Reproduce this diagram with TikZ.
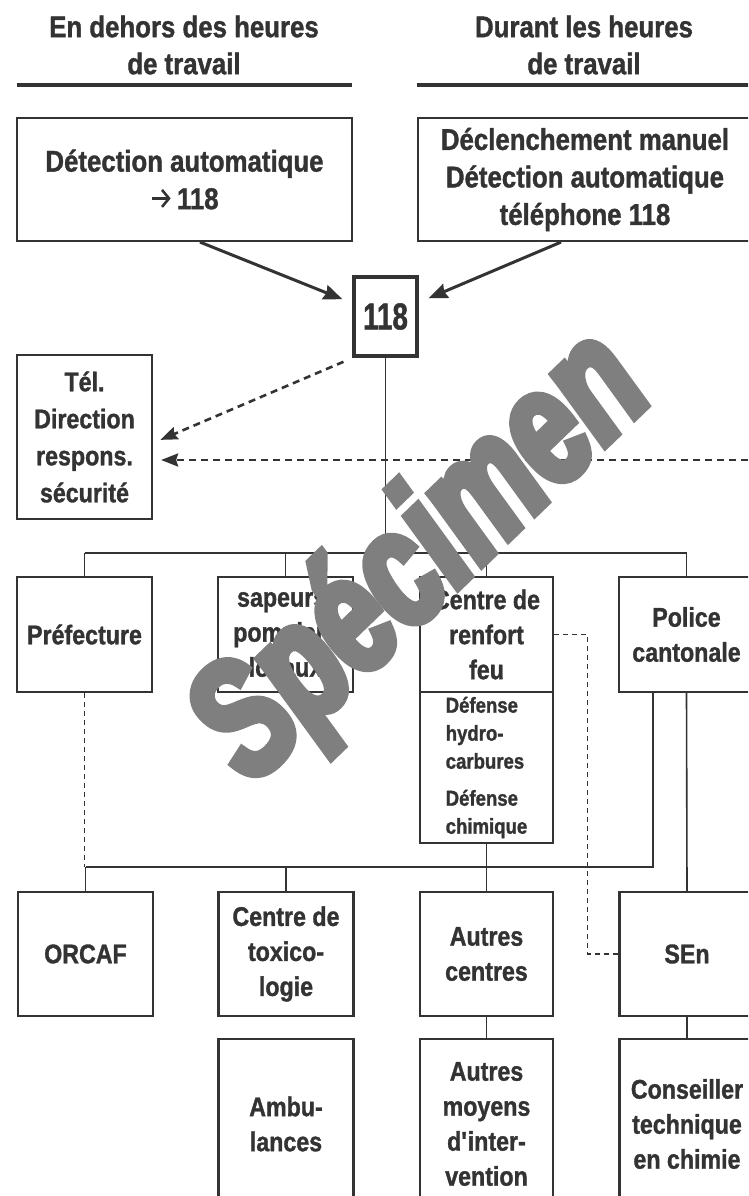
\documentclass[tikz,border=0pt]{standalone}
\usepackage{fontspec}
\setmainfont{Liberation Sans}[FakeStretch=0.86, BoldFeatures={FakeBold=1.2}]
\newfontfamily\narrowsans{Liberation Sans}[FakeStretch=0.74, BoldFeatures={FakeBold=1.2}]
\newfontfamily\stampfont{Liberation Sans}[FakeStretch=0.72, BoldItalicFeatures={FakeBold=5}]
\usetikzlibrary{arrows.meta,calc}
\definecolor{ink}{HTML}{333333}
\definecolor{stamp}{HTML}{7F7F7F}
\newcommand{\callto}{\tikz[baseline=-10.7pt]\draw[line width=2.6pt, -{Straight Barb[length=7pt,width=17pt]}] (0pt,0pt) -- (19pt,0pt);}
\begin{document}
\begin{tikzpicture}[x=1pt, y=-1pt, color=ink,
  box/.style={draw, line width=2.2pt, align=center, inner sep=0pt, font=\bfseries\fontsize{27}{35}\selectfont},
  topbox/.style={box, minimum width=335pt, minimum height=123pt, font=\bfseries\fontsize{30}{37.5}\selectfont},
  head/.style={align=center, font=\bfseries\fontsize{30}{37}\selectfont},
  unit/.style={box, minimum width=135pt, minimum height=115pt},
  link/.style={line width=1.6pt},
  bigarrow/.style={line width=3pt, -{Stealth[length=19pt,width=15pt,inset=2pt]}},
  callarrow/.style={line width=2.6pt, dash pattern=on 7pt off 5pt, -{Stealth[length=17pt,width=13pt,inset=2pt]}},
  thindash/.style={line width=1.5pt, dash pattern=on 5pt off 4pt}]
\useasboundingbox (0,0) rectangle (748,1196);
\clip (0,0) rectangle (748,1196);

\node (hleft) at (184,45) [head] {En dehors des heures\\de travail};
\node (hright) at (584,45) [head] {Durant les heures\\de travail};
\draw[line width=3.5pt] (17,85) -- (352,85);
\draw[line width=3.5pt] (417,85) -- (760,85);

\node (detA) at (184.5,179.5) [topbox] {Détection automatique\\\callto\,118};
\node (detB) at (585,179.5) [topbox, minimum width=334pt] {Déclenchement manuel\\Détection automatique\\téléphone 118};
\node (n118) at (385.5,316.5) [draw, line width=4.5pt, minimum width=63pt, minimum height=79pt, inner sep=0pt, font=\narrowsans\bfseries\fontsize{37.5}{37.5}\selectfont] {118};
\node (tel) at (84.5,437) [box, minimum width=135pt, minimum height=164pt, font=\bfseries\fontsize{27}{37}\selectfont] {Tél.\\Direction\\respons.\\sécurité};

\node (pref) at (84.5,634.5) [unit] {Préfecture};
\node (sap) at (285.5,634.5) [unit] {sapeurs-\\pompiers\\locaux};
\node (cen) at (486.5,634.5) [unit, minimum width=133pt] {Centre de\\renfort\\feu};
\node (sub) at (486.5,767.5) [box, minimum width=133pt, minimum height=151pt, align=left, font=\bfseries\fontsize{21.6}{28}\selectfont] {Défense\\hydro-\\carbures\\[9pt]Défense\\chimique};
\node (pol) at (686.5,634.5) [unit] {Police\\cantonale};

\node (orcaf) at (85.5,954) [unit, minimum height=124pt] {ORCAF};
\node (tox) at (286,954) [unit, minimum height=124pt] {Centre de\\toxico-\\logie};
\node (aut) at (486.5,954) [unit, minimum width=133pt, minimum height=124pt] {Autres\\centres};
\node (sen) at (687,954) [unit, minimum height=124pt] {SEn};

\node (amb) at (286,1124) [unit, minimum height=170pt] {Ambu-\\lances};
\node (moy) at (486.5,1124) [unit, minimum width=133pt, minimum height=170pt] {Autres\\moyens\\d\textquotesingle inter-\\vention};
\node (cons) at (687,1124) [unit, minimum height=170pt] {Conseiller\\technique\\en chimie};

\draw[bigarrow, shorten >=10pt] ($(detA.south)+(15.5,0)$) -- (n118);
\draw[bigarrow, shorten >=10pt] ($(detB.south)+(-24,0)$) -- (n118);
\draw[callarrow, shorten <=9pt, shorten >=8pt] (n118.south west) -- ($(tel.east)+(0,6)$);
\coordinate (feed) at (760,460);
\draw[callarrow, shorten >=8pt] (feed) -- (feed -| tel.east);

\coordinate (bus) at (0,553);
\coordinate (bus2) at (0,867);
\draw[link] (n118.south) -- (n118.south |- bus);
\draw[link] (pref.north |- bus) -- (pol.north |- bus);
\foreach \b in {pref,sap,cen,pol}
  \draw[link] (\b.north) -- (\b.north |- bus);
\draw[link] ($(pol.south)+(-33.5,0)$) |- (orcaf.north |- bus2);
\foreach \b in {orcaf,tox}
  \draw[link] (\b.north) -- (\b.north |- bus2);
\draw[link] (sub.south) -- (aut.north);
\draw[link] (pol.south) -- (sen.north);
\draw[link] (aut.south) -- (moy.north);
\draw[link] (sen.south) -- (cons.north);
\draw[thindash] (pref.south) -- (pref.south |- bus2);
\draw[thindash] (cen.east) -- ++(33.5,0) |- (sen.west);

\node (mark) at (424,560) [rotate=44, text=stamp, font=\stampfont\bfseries\itshape\fontsize{165}{165}\selectfont] {Spécimen};
\end{tikzpicture}
\end{document}
